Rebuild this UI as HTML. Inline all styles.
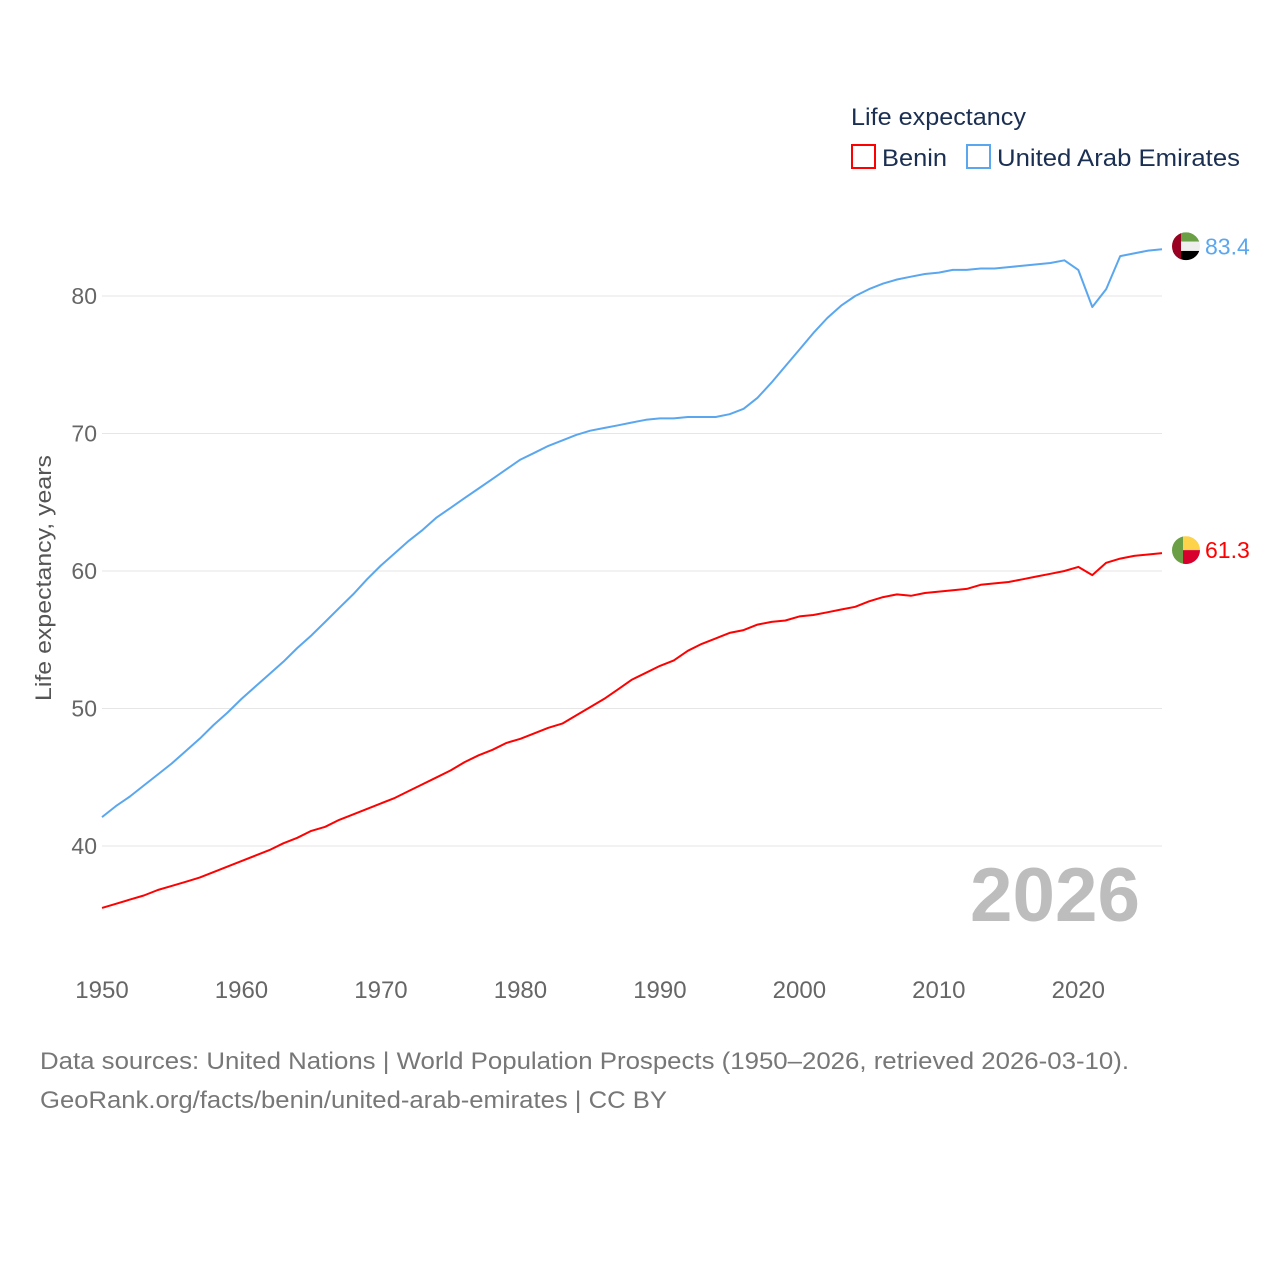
<!DOCTYPE html>
<html><head><meta charset="utf-8">
<style>
body{margin:0;background:#fff;width:1280px;height:1280px;overflow:hidden;font-family:"Liberation Sans",sans-serif;}
svg text{font-family:"Liberation Sans",sans-serif;}
</style></head>
<body>
<svg id="chart" width="1280" height="1280" xmlns="http://www.w3.org/2000/svg">
<g id="grid"></g>
<g id="yticks"></g>
<g id="xticks"></g>
<text transform="translate(51,578) rotate(-90)" text-anchor="middle" font-size="22" fill="#555" textLength="246" lengthAdjust="spacingAndGlyphs">Life expectancy, years</text>
<text x="1140" y="921" text-anchor="end" font-size="76" font-weight="bold" fill="#bdbdbd" textLength="170" lengthAdjust="spacingAndGlyphs">2026</text>
<g id="series"></g>
<g>
<text x="851" y="125" font-size="24" fill="#1b2f52" textLength="175" lengthAdjust="spacingAndGlyphs">Life expectancy</text>
<rect x="852" y="145" width="23" height="23" fill="none" stroke="#f00" stroke-width="2"/>
<text x="882" y="166" font-size="24" fill="#1b2f52" textLength="65" lengthAdjust="spacingAndGlyphs">Benin</text>
<rect x="967" y="145" width="23" height="23" fill="none" stroke="#5aa7ef" stroke-width="2"/>
<text x="997" y="166" font-size="24" fill="#1b2f52" textLength="243" lengthAdjust="spacingAndGlyphs">United Arab Emirates</text>
</g>
<g>
<text x="40" y="1069" font-size="24" fill="#777" textLength="1089" lengthAdjust="spacingAndGlyphs">Data sources: United Nations | World Population Prospects (1950–2026, retrieved 2026-03-10).</text>
<text x="40" y="1108" font-size="24" fill="#777" textLength="627" lengthAdjust="spacingAndGlyphs">GeoRank.org/facts/benin/united-arab-emirates | CC BY</text>
</g>
</svg>
<script>
const startYear = 1950;
const xTicks = [1950,1960,1970,1980,1990,2000,2010,2020];
const yTicks = [40,50,60,70,80];
const uaeValues = [42.1,42.9,43.6,44.4,45.2,46.0,46.9,47.8,48.8,49.7,50.7,
51.6,52.5,53.4,54.4,55.3,56.3,57.3,58.3,59.4,60.4,
61.3,62.2,63.0,63.9,64.6,65.3,66.0,66.7,67.4,68.1,
68.6,69.1,69.5,69.9,70.2,70.4,70.6,70.8,71.0,71.1,
71.1,71.2,71.2,71.2,71.4,71.8,72.6,73.7,74.9,76.1,
77.3,78.4,79.3,80.0,80.5,80.9,81.2,81.4,81.6,81.7,
81.9,81.9,82.0,82.0,82.1,82.2,82.3,82.4,82.6,81.9,
79.2,80.5,82.9,83.1,83.3,83.4];
const beninValues = [35.5,35.8,36.1,36.4,36.8,37.1,37.4,37.7,38.1,38.5,38.9,
39.3,39.7,40.2,40.6,41.1,41.4,41.9,42.3,42.7,43.1,
43.5,44.0,44.5,45.0,45.5,46.1,46.6,47.0,47.5,47.8,
48.2,48.6,48.9,49.5,50.1,50.7,51.4,52.1,52.6,53.1,
53.5,54.2,54.7,55.1,55.5,55.7,56.1,56.3,56.4,56.7,
56.8,57.0,57.2,57.4,57.8,58.1,58.3,58.2,58.4,58.5,
58.6,58.7,59.0,59.1,59.2,59.4,59.6,59.8,60.0,60.3,
59.7,60.6,60.9,61.1,61.2,61.3];
const NS="http://www.w3.org/2000/svg";
const X0=102, X1=1162, Y0=40, PY0=846, PYU=13.75;
function xs(yr){return X0+(yr-1950)*(X1-X0)/76;}
function ys(v){return PY0-(v-Y0)*PYU;}
function mk(tag,attrs,parent){const e=document.createElementNS(NS,tag);for(const k in attrs)e.setAttribute(k,attrs[k]);parent.appendChild(e);return e;}
const grid=document.getElementById('grid'), yt=document.getElementById('yticks'), xt=document.getElementById('xticks'), ser=document.getElementById('series');
yTicks.forEach(v=>{
 const l=mk('line',{x1:102,x2:1162,y1:ys(v),y2:ys(v),stroke:'#e6e6e6','stroke-width':1},grid);
 
 
 const t=mk('text',{x:97,y:ys(v)+8,'text-anchor':'end','font-size':23,fill:'#666'},yt);
 t.textContent=v;
 
 
});
xTicks.forEach(yr=>{
 const t=mk('text',{x:xs(yr),y:998,'text-anchor':'middle','font-size':24,fill:'#666'},xt);
 t.textContent=yr;
 
 
});
function drawSeries(vals,color,name){
 const pts=vals.map((v,i)=>xs(startYear+i).toFixed(1)+','+ys(v).toFixed(1)).join(' ');
 const p=mk('polyline',{points:pts,fill:'none',stroke:color,'stroke-width':2,'stroke-linejoin':'round'},ser);
 
 
 const last=vals[vals.length-1];
 const t=mk('text',{x:1205,y:ys(last)+5,'font-size':23,fill:color},ser);
 t.textContent=last.toFixed(1);
 
 
 return ys(last)-3;
}
const yU=drawSeries(uaeValues,'#5aa7ef','uae');
const yB=drawSeries(beninValues,'#f00','benin');
function flag(cy,name,parts){
 const g=mk('g',{},ser);
 
 
 const id='clip'+name;
 const cp=mk('clipPath',{id:id},g);
 mk('circle',{cx:1186,cy:cy,r:14},cp);
 const gg=mk('g',{'clip-path':'url(#'+id+')'},g);
 parts.forEach(p=>mk('rect',{x:1172+p[0],y:cy-14+p[1],width:p[2],height:p[3],fill:p[4]},gg));
}
flag(yU,'uae',[[0,0,28,9.4,'#6a9f45'],[0,9.4,28,9.3,'#eeeeee'],[0,18.7,28,9.3,'#000'],[0,0,9,28,'#9a0022']]);
flag(yB,'benin',[[0,0,11,28,'#6a9f45'],[11,0,17,14,'#fcd34a'],[11,14,17,14,'#d8002d']]);
</script>
</body></html>
